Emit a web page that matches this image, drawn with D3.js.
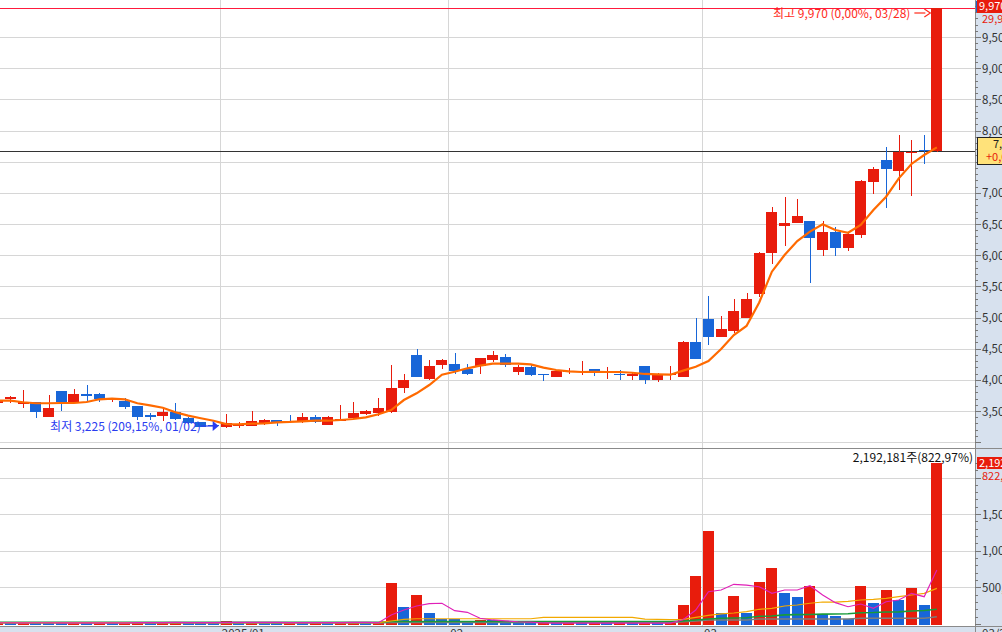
<!DOCTYPE html>
<html><head><meta charset="utf-8">
<script src="https://cdn.jsdelivr.net/npm/d3@7"></script>
<style>html,body{margin:0;padding:0;background:#fff;overflow:hidden}svg{display:block}text{font-family:"Noto Sans CJK KR","Noto Sans",sans-serif}</style>
</head><body><svg id="c" width="1002" height="632"></svg>
<script>
const dates = ["2024-12-04","2024-12-05","2024-12-06","2024-12-09","2024-12-10","2024-12-11","2024-12-12","2024-12-13","2024-12-16","2024-12-17","2024-12-18","2024-12-19","2024-12-20","2024-12-23","2024-12-24","2024-12-26","2024-12-27","2024-12-30",
"2025-01-02","2025-01-03","2025-01-06","2025-01-07","2025-01-08","2025-01-09","2025-01-10","2025-01-13","2025-01-14","2025-01-15","2025-01-16","2025-01-17","2025-01-20","2025-01-21","2025-01-22","2025-01-23","2025-01-24","2025-01-31",
"2025-02-03","2025-02-04","2025-02-05","2025-02-06","2025-02-07","2025-02-10","2025-02-11","2025-02-12","2025-02-13","2025-02-14","2025-02-17","2025-02-18","2025-02-19","2025-02-20","2025-02-21","2025-02-24","2025-02-25","2025-02-26","2025-02-27","2025-02-28",
"2025-03-04","2025-03-05","2025-03-06","2025-03-07","2025-03-10","2025-03-11","2025-03-12","2025-03-13","2025-03-14","2025-03-17","2025-03-18","2025-03-19","2025-03-20","2025-03-21","2025-03-24","2025-03-25","2025-03-26","2025-03-27","2025-03-28"];
const openP = [3625,3690,3615,3645,3405,3820,3645,3765,3770,3690, 3665,3580,3435,3425,3485,3385,3320,3280,3250,3275, 3265,3285,3355,3345,3330,3410,3275,3355,3395,3445, 3475,3490,3875,4400,4010,4240,4255,4175,4220,4320, 4365,4125,4205,4095,4045,4135,4135,4175,4110,4100, 4060,4220,3995,4080,4045,4605,4975,4690,4785,4990, 5380,6030,6470,6520,6550,6080,6370,6120,6320,7170, 7530,7350,7640,7690,7670];
const highP = [3680,3740,3835,3650,3755,3825,3855,3915,3785,3710, 3705,3585,3465,3570,3625,3400,3330,3300,3450,3330, 3500,3365,3360,3435,3475,3435,3420,3595,3645,3515, 3710,4240,4095,4495,4320,4330,4435,4255,4355,4465, 4415,4240,4255,4095,4145,4190,4300,4180,4205,4160, 4125,4225,4110,4220,4625,4990,5340,5020,5300,5390, 6050,6770,6930,6900,6550,6550,6450,6350,7200,7410, 7730,7930,7850,7930,9970];
const lowP = [3615,3625,3555,3395,3400,3505,3640,3650,3650,3640, 3525,3355,3355,3345,3355,3290,3240,3240,3225,3230, 3260,3275,3260,3305,3305,3305,3270,3345,3390,3435, 3420,3475,3795,4040,4000,4175,4095,4080,4095,4290, 4210,4080,4060,3985,4040,4095,4080,4060,4015,3995, 3995,3935,3965,3995,4040,4330,4565,4690,4755,4990, 5330,5860,6150,6510,5550,5990,5990,6070,6280,6980, 6760,7050,6950,7460,7660];
const closeP = [3675,3730,3650,3485,3555,3645,3775,3750,3690,3705, 3570,3410,3400,3490,3375,3305,3250,3260,3305,3285, 3340,3355,3320,3335,3405,3330,3405,3365,3475,3500, 3555,3875,3995,4045,4220,4320,4145,4095,4350,4400, 4240,4205,4080,4085,4140,4145,4145,4110,4140,4090, 4095,3995,4095,4095,4605,4335,4690,4815,5100,5300, 6030,6690,6520,6630,6280,6370,6120,6340,7190,7380, 7380,7650,7660,7670,9970];
const priceMA5 = [3665,3665,3640,3624,3624,3628,3628,3644,3688,3697, 3688,3624,3591,3553,3479,3425,3383,3344,3291,3287, 3296,3303,3319,3324,3335,3344,3344,3356,3372,3399, 3447,3516,3676,3784,3917,4082,4130,4185,4227,4259, 4259,4259,4249,4195,4158,4137,4126,4130,4126,4126, 4114,4094,4089,4082,4147,4211,4302,4495,4719,4864, 5241,5735,6003,6227,6377,6495,6404,6360,6484,6725, 6938,7233,7463,7607,7730];
const volume = [18000,15000,20000,17000,15000,13000,18000,14000,18000,14000, 18000,34000,16000,20000,24000,17000,14000,13000,40000,20000, 24000,18000,15000,19000,14000,22000,16000,25000,30000,18000, 22000,559000,226000,390000,144000,68000,64000,20000,57000,48000, 20000,11000,10000,12000,11000,13000,12000,14000,11000,13000, 12000,15000,11000,12000,253000,651000,1267000,144000,377000,144000, 568000,760000,418000,364000,514000,130000,103000,75000,514000,281000, 459000,322000,486000,253000,2192181];
const volMA5 = [17,17,16,17,17,16,16,16,16,15, 15,18,19,20,21,20,20,20,22,21, 21,21,22,19,18,18,19,20,22,23, 18,123,191,246,277,283,182,160,78,55, 42,31,25,14,12,12,12,12,12,12, 12,12,12,12,58,190,441,464,542,532, 509,419,464,464,523,396,291,236,273,214, 304,328,419,373,737];
const volMA20 = [18,18,18,18,18,18,18,18,18,18, 18,18,18,18,18,18,18,18,18,18, 18,18,18,18,18,18,18,18,18,18, 18,41,64,72,72,72,72,72,72,72, 72,72,72,91,91,91,91,91,91,91, 91,66,62,60,62,91,119,137,150,168, 201,214,246,259,283,300,300,310,328,337, 351,373,396,419,487];
const volMA60 = [23,23,23,23,23,23,23,23,23,23, 23,23,23,23,23,23,23,23,23,23, 23,23,23,23,23,23,23,23,23,23, 23,34,34,34,34,34,34,34,34,34, 34,34,34,34,34,34,34,34,34,34, 34,34,34,34,41,55,68,78,82,86, 105,109,125,128,130,135,137,140,154,157, 164,166,177,184,201];
const volMA120 = [13,13,13,13,13,13,13,13,13,13, 13,13,13,13,13,13,13,13,13,13, 13,13,13,13,13,13,13,13,13,13, 13,20,20,20,20,20,20,20,20,20, 20,20,20,20,20,20,20,20,20,20, 20,20,20,20,30,40,55,55,55,55, 68,68,68,68,68,68,68,68,78,78, 78,78,78,78,100];
const priceTicks = [3000,3500,4000,4500,5000,5500,6000,6500,7000,7500,8000,8500,9000,9500];
const priceLabelTicks = [3500,4000,4500,5000,5500,6000,6500,7000,8000,8500,9000,9500];
const volTicks = [500000,1000000,1500000,2000000];
const volLabelTicks = [500000,1000000,1500000];
const monthStarts = ["2025-01-02","2025-02-03","2025-03-04"];
const monthLabels = ["2025/01","02","03"];
const highInfo = {price:9970, text:"최고 9,970 (0,00%, 03/28)", date:"2025-03-28"};
const lowInfo = {price:3225, text:"최저 3,225 (209,15%, 01/02)", date:"2025-01-02"};
const prevClose = 7670;
const volText = "2,192,181주(822,97%)";

const RED="#e81c0c", BLUE="#1866d8", GRID="#d6d6d6", AXBG="#d7e1ee";
const AXF = "DejaVu Sans Condensed, DejaVu Sans";
const svg = d3.select("#c");
const plotR = 975;
const x = d3.scaleBand().domain(dates).range([-8.55, -8.55 + 12.69*dates.length]).paddingInner(0.133).paddingOuter(0.0665);
const bw = x.bandwidth();
const cx = d => x(d) + bw/2;
const yP = d3.scaleLinear().domain([3500,9500]).range([411,37]);
const yV = d3.scaleLinear().domain([0,2000000]).range([624,477.5]);
const gap = x.step() - bw;

svg.append("defs").html('<clipPath id="cp"><rect x="0" y="0" width="975" height="448"/></clipPath><clipPath id="cv"><rect x="0" y="449" width="975" height="177"/></clipPath>');

// grids
const grid = svg.append("g").attr("shape-rendering","crispEdges");
grid.selectAll(".hp").data(priceTicks).join("line").attr("x1",0).attr("x2",plotR)
  .attr("y1",d=>Math.round(yP(d))+0.5).attr("y2",d=>Math.round(yP(d))+0.5).attr("stroke",GRID);
grid.selectAll(".hv").data(volTicks).join("line").attr("x1",0).attr("x2",plotR)
  .attr("y1",d=>Math.round(yV(d))+0.5).attr("y2",d=>Math.round(yV(d))+0.5).attr("stroke",GRID);
grid.selectAll(".vm").data(monthStarts).join("line")
  .attr("x1",d=>Math.round(x(d)-gap/2)+0.5).attr("x2",d=>Math.round(x(d)-gap/2)+0.5)
  .attr("y1",0).attr("y2",632).attr("stroke",GRID);

// price pane
const pp = svg.append("g").attr("clip-path","url(#cp)");
pp.append("line").attr("x1",0).attr("x2",plotR).attr("y1",Math.round(yP(highInfo.price))+0.5).attr("y2",Math.round(yP(highInfo.price))+0.5).attr("stroke","#ff1a3c").attr("shape-rendering","crispEdges");
pp.append("line").attr("x1",0).attr("x2",plotR).attr("y1",Math.round(yP(prevClose))+0.5).attr("y2",Math.round(yP(prevClose))+0.5).attr("stroke","#333").attr("shape-rendering","crispEdges");
const cg = pp.append("g").attr("shape-rendering","crispEdges");
dates.forEach((d,i)=>{
  const up = closeP[i] >= openP[i];
  const col = up ? RED : BLUE;
  const xc = Math.round(cx(d));
  cg.append("line").attr("x1",xc+0.5).attr("x2",xc+0.5).attr("y1",yP(highP[i])).attr("y2",yP(lowP[i])).attr("stroke",col);
  const top = yP(Math.max(openP[i],closeP[i])), bot = yP(Math.min(openP[i],closeP[i]));
  cg.append("rect").attr("x",Math.round(x(d))).attr("width",Math.round(bw)).attr("y",top).attr("height",Math.max(1.2,bot-top)).attr("fill",col);
});
pp.append("path").datum(priceMA5).attr("fill","none").attr("stroke","#ff6a00").attr("stroke-width",2.2)
  .attr("d",d3.line().x((v,i)=>cx(dates[i])).y(v=>yP(v)));

// high annotation
const hx = x(highInfo.date) - 1, hy = Math.round(yP(highInfo.price))+5;
pp.append("line").attr("x1",hx-16).attr("x2",hx-5).attr("y1",hy).attr("y2",hy).attr("stroke","#ff2a1a").attr("stroke-width",1.2);
pp.append("path").attr("d",`M${hx-6},${hy-4}L${hx},${hy}L${hx-6},${hy+4}`).attr("fill","none").attr("stroke","#ff2a1a").attr("stroke-width",1.2);
pp.append("text").attr("x",hx-20).attr("y",hy+4.5).attr("text-anchor","end").attr("font-size",12).attr("fill","#ff2a1a").text(highInfo.text);
// low annotation
const lx = x(lowInfo.date) - 2, ly = Math.round(yP(lowInfo.price)) - 2;
pp.append("line").attr("x1",lx-18).attr("x2",lx-5).attr("y1",ly).attr("y2",ly).attr("stroke","#2a3cf0").attr("stroke-width",1.2);
pp.append("path").attr("d",`M${lx-6},${ly-5}L${lx},${ly}L${lx-6},${ly+5}Z`).attr("fill","#2a3cf0");
pp.append("text").attr("x",lx-18).attr("y",ly+4.5).attr("text-anchor","end").attr("font-size",12).attr("fill","#2a3cf0").text(lowInfo.text);

// volume pane
const vp = svg.append("g").attr("clip-path","url(#cv)");
const vg = vp.append("g").attr("shape-rendering","crispEdges");
dates.forEach((d,i)=>{
  const up = i===0 ? true : volume[i] >= volume[i-1];
  const top = yV(volume[i]);
  vg.append("rect").attr("x",Math.round(x(d))).attr("width",Math.round(bw)).attr("y",top).attr("height",yV(0)+1-top).attr("fill",up?RED:BLUE);
});
const vline = d3.line().x((v,i)=>cx(dates[i])).y(v=>yV(v*1000));
vp.append("path").datum(volMA120).attr("fill","none").attr("stroke","#7c7c7c").attr("stroke-width",1.5).attr("d",vline);
vp.append("path").datum(volMA60).attr("fill","none").attr("stroke","#189a3a").attr("stroke-width",1.6).attr("d",vline);
vp.append("path").datum(volMA20).attr("fill","none").attr("stroke","#f2a900").attr("stroke-width",1.2).attr("d",vline);
vp.append("path").datum(volMA5).attr("fill","none").attr("stroke","#e020b8").attr("stroke-width",1.2).attr("d",vline);
vp.append("text").attr("x",973).attr("y",462).attr("text-anchor","end").attr("font-size",12).attr("fill","#111").text(volText);

// right axis
const ax = svg.append("g");
ax.append("rect").attr("x",plotR).attr("y",0).attr("width",27).attr("height",632).attr("fill",AXBG);
ax.append("rect").attr("x",0).attr("y",626).attr("width",1002).attr("height",6).attr("fill",AXBG);
ax.append("line").attr("x1",0).attr("x2",1002).attr("y1",626.5).attr("y2",626.5).attr("stroke","#8a8a8a").attr("shape-rendering","crispEdges");
ax.append("line").attr("x1",0).attr("x2",1002).attr("y1",448.5).attr("y2",448.5).attr("stroke","#8a8a8a").attr("shape-rendering","crispEdges");
ax.append("line").attr("x1",plotR+0.5).attr("x2",plotR+0.5).attr("y1",0).attr("y2",632).attr("stroke","#8a8a8a").attr("shape-rendering","crispEdges");
const minorP = d3.range(3000,10001,100).filter(d=>yP(d)>=0 && yP(d)<=447);
ax.selectAll(".mp").data(minorP).join("line").attr("x1",plotR).attr("x2",d=>d%500===0?plotR+6:plotR+3)
  .attr("y1",d=>Math.round(yP(d))+0.5).attr("y2",d=>Math.round(yP(d))+0.5).attr("stroke","#777").attr("shape-rendering","crispEdges");
ax.selectAll(".lp").data(priceLabelTicks).join("text").attr("x",982).attr("y",d=>yP(d)+4.5).attr("fill","#333").attr("font-family",AXF).attr("font-size",11.5).text(d3.format(","));
const minorV = d3.range(0,2200001,100000).filter(d=>yV(d)>=450 && yV(d)<=625);
ax.selectAll(".mv").data(minorV).join("line").attr("x1",plotR).attr("x2",d=>d%500000===0?plotR+6:plotR+3)
  .attr("y1",d=>Math.round(yV(d))+0.5).attr("y2",d=>Math.round(yV(d))+0.5).attr("stroke","#777").attr("shape-rendering","crispEdges");
ax.selectAll(".lv").data(volLabelTicks).join("text").attr("x",982).attr("y",d=>yV(d)+4.5).attr("fill","#333").attr("font-family",AXF).attr("font-size",11.5).text(d3.format(","));

// right side value boxes
ax.append("rect").attr("x",977).attr("y",0).attr("width",25).attr("height",13).attr("fill",RED);
ax.append("text").attr("x",979).attr("y",10).attr("fill","#fff").attr("font-size",11).attr("font-family",AXF).text(d3.format(",")(highInfo.price));
ax.append("text").attr("x",982).attr("y",23).attr("fill",RED).attr("font-size",11).attr("font-family",AXF).text("29,99%");
ax.append("line").attr("x1",976.5).attr("x2",976.5).attr("y1",1).attr("y2",12).attr("stroke","#2060d0");
ax.append("rect").attr("x",977.5).attr("y",137.5).attr("width",26).attr("height",27).attr("fill","#ffe27a").attr("stroke","#222");
ax.append("text").attr("x",993).attr("y",148).attr("fill","#222").attr("font-size",11).attr("font-family",AXF).text(d3.format(",")(prevClose));
ax.append("text").attr("x",986).attr("y",161).attr("fill",RED).attr("font-size",11).attr("font-family",AXF).text("+0,00%");
ax.append("rect").attr("x",977).attr("y",457).attr("width",25).attr("height",12).attr("fill",RED);
ax.append("text").attr("x",979).attr("y",466.5).attr("fill","#fff").attr("font-size",11).attr("font-family",AXF).text("2,192,181");
ax.append("text").attr("x",982).attr("y",480).attr("fill",RED).attr("font-size",11).attr("font-family",AXF).text("822,97%");
ax.append("text").attr("x",982).attr("y",638).attr("fill","#333").attr("font-size",11.5).attr("font-family",AXF).text("03/28");

// month labels
ax.selectAll(".ml").data(monthStarts).join("text").attr("x",d=>x(d)-gap/2+2).attr("y",638).attr("font-size",11.5)
  .attr("fill","#333").attr("font-family",AXF).text((d,i)=>monthLabels[i]);
</script></body></html>
